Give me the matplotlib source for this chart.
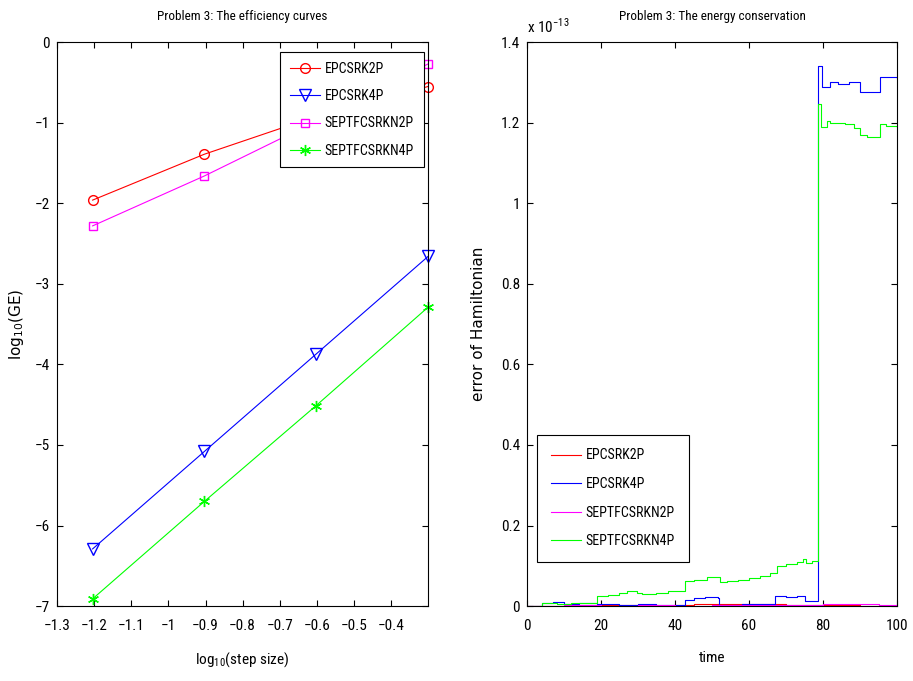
import numpy as np
import matplotlib.pyplot as plt
from matplotlib.ticker import FixedLocator, FuncFormatter
from matplotlib import font_manager

# fuente estilo matlab (helvetica estrecha si existe)
names = {f.name for f in font_manager.fontManager.ttflist}
fam = 'Liberation Sans'
for cand in ['Liberation Sans Narrow', 'Roboto Condensed', 'Arial Narrow']:
    if cand in names:
        fam = cand
        break
plt.rcParams['font.family'] = [fam, 'DejaVu Sans']
plt.rcParams['mathtext.fontset'] = 'custom'
plt.rcParams['mathtext.rm'] = fam

# ---- datos: curvas de eficiencia ----
log_h = [-1.204, -0.903, -0.602, -0.301]
ge_epcsrk2p = [-1.96, -1.39, -0.92, -0.55]
ge_epcsrk4p = [-6.29, -5.08, -3.87, -2.66]
ge_septf2p = [-2.28, -1.66, -0.98, -0.27]
ge_septf4p = [-6.91, -5.70, -4.51, -3.29]
names_eff = ['EPCSRK2P', 'EPCSRK4P', 'SEPTFCSRKN2P', 'SEPTFCSRKN4P']

# ---- datos: conservacion de energia (en unidades de 1e-13) ----
escala = 1e-13
t_red = [0, 10, 20, 30, 40, 45, 50, 55, 60, 65, 70, 78.6, 85, 90, 100]
h_red = [0.0, 0.001, 0.002, 0.001, 0.002, 0.004, 0.006, 0.005, 0.006, 0.004,
         0.003, 0.002, 0.002, 0.001, 0.001]
t_blue = [0, 4, 7, 10, 14, 19, 25, 30, 35, 42.7, 45, 48, 51.5, 52, 58, 62, 67,
          70, 73, 75, 78.6, 79.8, 81.9, 84, 87, 90, 95.4, 100]
h_blue = [0.0, 0.008, 0.010, 0.006, 0.008, 0.004, 0.003, 0.005, 0.002, 0.015,
          0.020, 0.022, 0.020, 0.003, 0.004, 0.006, 0.025, 0.023, 0.024, 0.013,
          1.340, 1.288, 1.302, 1.297, 1.300, 1.276, 1.313, 1.310]
t_mag = [0, 10, 20, 30, 40, 50, 60, 70, 80, 85, 90, 95, 100]
h_mag = [0.001, 0.002, 0.001, 0.002, 0.001, 0.002, 0.003, 0.002, 0.004, 0.005,
         0.004, 0.003, 0.002]
t_green = [0, 4, 8, 12, 18.8, 22, 25, 26.9, 29.6, 31, 35, 38, 42.7, 45, 48.6,
           52.2, 54, 57, 60, 63, 65.7, 67.5, 70, 73, 74.7, 75.5, 77, 78.6, 79.5,
           81, 82, 86, 88.5, 90, 92, 95.4, 97, 100]
h_green = [0.0, 0.007, 0.005, 0.008, 0.025, 0.028, 0.033, 0.037, 0.032, 0.030,
           0.033, 0.037, 0.062, 0.065, 0.071, 0.060, 0.063, 0.066, 0.070, 0.074,
           0.081, 0.100, 0.104, 0.110, 0.117, 0.108, 0.112, 1.246, 1.189, 1.204,
           1.200, 1.197, 1.186, 1.169, 1.165, 1.196, 1.192, 1.190]

fig = plt.figure(figsize=(9.13, 6.81), dpi=100)
ax1 = fig.add_axes([0.0624, 0.110, 0.4064, 0.828])
ax2 = fig.add_axes([0.5772, 0.110, 0.4053, 0.828])

for ax in (ax1, ax2):
    ax.tick_params(direction='in', top=True, right=True, length=4, width=0.8,
                   labelsize=11)
    ax.tick_params(axis='x', pad=9)
    ax.tick_params(axis='y', pad=5)
    for s in ax.spines.values():
        s.set_linewidth(0.8)

# grafico izquierdo
ax1.plot(log_h, ge_epcsrk2p, 'r-o', mfc='none', ms=7, lw=0.8, label=names_eff[0])
ax1.plot(log_h, ge_epcsrk4p, 'b-v', mfc='none', ms=8, lw=0.8, label=names_eff[1])
ax1.plot(log_h, ge_septf2p, '-s', color='#ff00ff', mfc='none', ms=6, lw=0.8,
         label=names_eff[2])
ax1.plot(log_h, ge_septf4p, '-', marker=(6, 2, 0), color='#00ff00', ms=8, mew=1,
         lw=0.8, label=names_eff[3])
for l in ax1.lines:
    l.set_clip_on(False)
ax1.set_xlim(-1.3, -0.301)
ax1.set_ylim(-7, 0)
xt = [-1.3, -1.2, -1.1, -1.0, -0.9, -0.8, -0.7, -0.6, -0.5, -0.4]
ax1.xaxis.set_major_locator(FixedLocator(xt))
ax1.set_xticklabels(['\u22121.3', '\u22121.2', '\u22121.1', '\u22121', '\u22120.9',
                     '\u22120.8', '\u22120.7', '\u22120.6', '\u22120.5', '\u22120.4'])
ax1.set_yticks(range(-7, 1))
ax1.set_title('Problem 3: The efficiency curves', fontsize=9.5, pad=16)
ax1.set_xlabel(r'$\mathregular{log_{10}}$(step size)', fontsize=11, labelpad=13)
ax1.set_ylabel(r'$\mathregular{log_{10}(GE)}$', fontsize=11, family='DejaVu Sans',
               labelpad=6)
leg1 = ax1.legend(loc='upper right', bbox_to_anchor=(0.988, 0.982), fontsize=10,
                  fancybox=False, edgecolor='black', framealpha=1,
                  handlelength=2.2, borderpad=0.7, labelspacing=0.95,
                  handletextpad=0.3, borderaxespad=0)
leg1.get_frame().set_linewidth(0.8)

# grafico derecho
ax2.plot(t_red, np.array(h_red) * escala, color='red', lw=0.8,
         drawstyle='steps-post', label=names_eff[0])
ax2.plot(t_blue, np.array(h_blue) * escala, color='blue', lw=0.8,
         drawstyle='steps-post', label=names_eff[1])
ax2.plot(t_mag, np.array(h_mag) * escala, color='#ff00ff', lw=0.8,
         drawstyle='steps-post', label=names_eff[2])
ax2.plot(t_green, np.array(h_green) * escala, color='#00ff00', lw=0.8,
         drawstyle='steps-post', label=names_eff[3])
ax2.set_xlim(0, 100)
ax2.set_ylim(0, 1.4e-13)
ax2.set_xticks([0, 20, 40, 60, 80, 100])
ax2.set_yticks(np.arange(0, 1.41, 0.2) * escala)
ax2.yaxis.set_major_formatter(FuncFormatter(lambda v, p: '%g' % round(v / escala, 2)))
ax2.text(0.0, 1.012, r'x 10$^{\mathregular{-13}}$', transform=ax2.transAxes,
         fontsize=11, ha='left', va='bottom')
ax2.set_title('Problem 3: The energy conservation', fontsize=9.5, pad=16)
ax2.set_xlabel('time', fontsize=11, labelpad=13)
ax2.set_ylabel('error of Hamiltonian', fontsize=11, family='DejaVu Sans', labelpad=11)
leg2 = ax2.legend(loc='lower left', bbox_to_anchor=(0.027, 0.078), fontsize=10,
                  fancybox=False, edgecolor='black', framealpha=1,
                  handlelength=2.2, borderpad=1.0, labelspacing=1.05,
                  handletextpad=0.3, borderaxespad=0)
leg2.get_frame().set_linewidth(0.8)

plt.savefig('out.png', dpi=100)
